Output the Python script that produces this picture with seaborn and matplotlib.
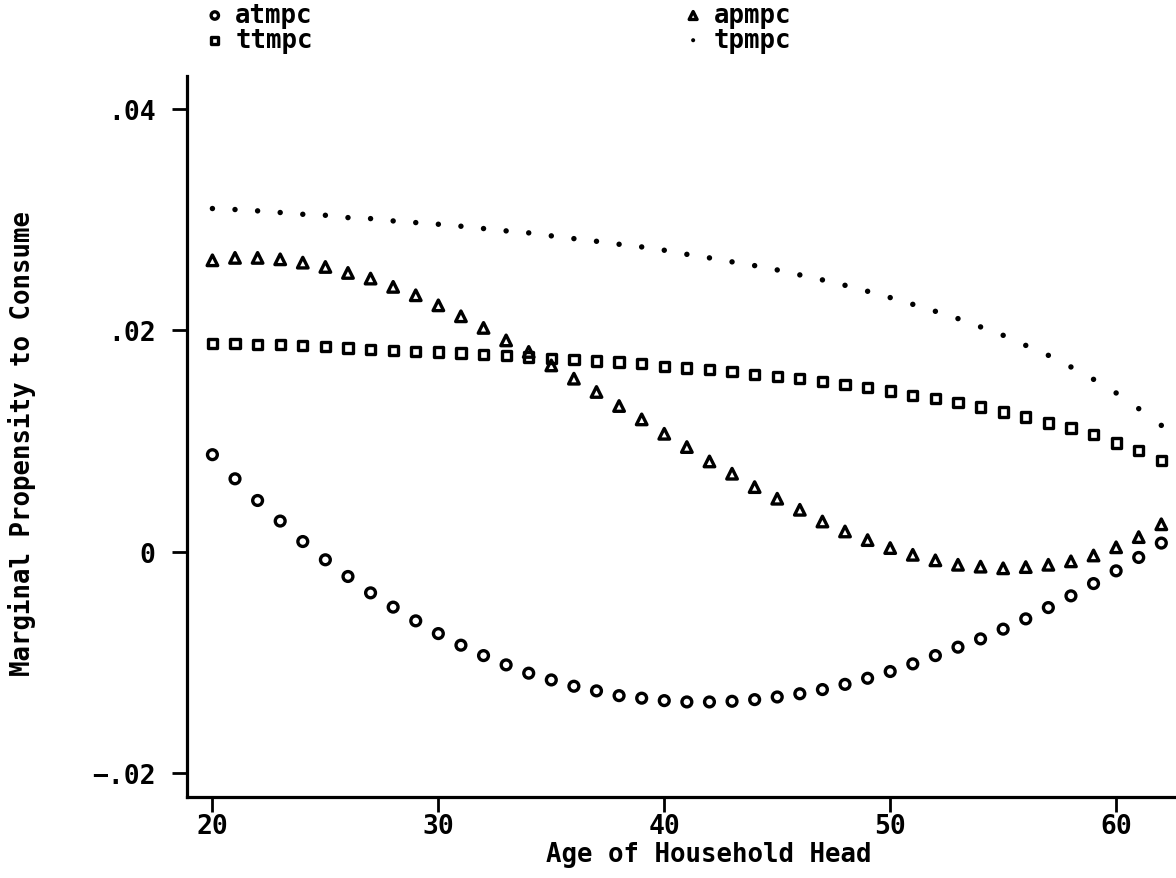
import matplotlib
matplotlib.use("Agg")
import matplotlib.pyplot as plt
import seaborn as sns

# household head age (x)
ages = list(range(20, 63))

# marginal propensities, ages 20..62
atmpc = [0.00877, 0.00659, 0.00463, 0.00277, 0.00092, -0.00073, -0.00224, -0.00372, -0.00501, -0.00625,
         -0.00740, -0.00845, -0.00939, -0.01023, -0.01098, -0.01159, -0.01216, -0.01258, -0.01301, -0.01324,
         -0.01346, -0.01358, -0.01358, -0.01352, -0.01337, -0.01313, -0.01284, -0.01246, -0.01199, -0.01144,
         -0.01083, -0.01014, -0.00939, -0.00863, -0.00788, -0.00700, -0.00607, -0.00505, -0.00399, -0.00288,
         -0.00173, -0.00052, 0.00078]
apmpc = [0.02634, 0.02656, 0.02656, 0.02643, 0.02613, 0.02574, 0.02520, 0.02469, 0.02394, 0.02318,
         0.02227, 0.02128, 0.02023, 0.01910, 0.01806, 0.01684, 0.01564, 0.01444, 0.01317, 0.01196,
         0.01066, 0.00946, 0.00816, 0.00705, 0.00584, 0.00479, 0.00379, 0.00273, 0.00183, 0.00105,
         0.00033, -0.00028, -0.00078, -0.00118, -0.00135, -0.00150, -0.00139, -0.00118, -0.00087, -0.00034,
         0.00040, 0.00132, 0.00248]
ttmpc = [0.01881, 0.01881, 0.01874, 0.01872, 0.01865, 0.01856, 0.01842, 0.01826, 0.01820, 0.01811,
         0.01806, 0.01796, 0.01784, 0.01775, 0.01760, 0.01745, 0.01739, 0.01724, 0.01715, 0.01700,
         0.01677, 0.01661, 0.01648, 0.01630, 0.01603, 0.01585, 0.01564, 0.01540, 0.01512, 0.01483,
         0.01453, 0.01413, 0.01383, 0.01347, 0.01308, 0.01263, 0.01218, 0.01163, 0.01118, 0.01057,
         0.00982, 0.00915, 0.00825]
tpmpc = [0.03102, 0.03093, 0.03081, 0.03066, 0.03050, 0.03041, 0.03020, 0.03011, 0.02990, 0.02975,
         0.02960, 0.02942, 0.02921, 0.02900, 0.02882, 0.02855, 0.02830, 0.02806, 0.02779, 0.02755,
         0.02725, 0.02688, 0.02656, 0.02620, 0.02586, 0.02547, 0.02502, 0.02457, 0.02408, 0.02354,
         0.02297, 0.02236, 0.02173, 0.02107, 0.02032, 0.01956, 0.01865, 0.01775, 0.01670, 0.01558,
         0.01435, 0.01293, 0.01142]

xticks = [20, 30, 40, 50, 60]
yticks = [-0.02, 0, 0.02, 0.04]
ytick_labels = ["\u2212.02", "0", ".02", ".04"]

sns.set_theme(style="ticks")
plt.rcParams["font.family"] = ["DejaVu Sans Mono"]
plt.rcParams["font.weight"] = "bold"
plt.rcParams["text.color"] = "black"
plt.rcParams["axes.labelcolor"] = "black"
plt.rcParams["xtick.color"] = "black"
plt.rcParams["ytick.color"] = "black"

fig = plt.figure(figsize=(11.76, 8.79), dpi=100)
ax = fig.add_axes([0.1593, 0.0918, 0.8407, 0.8206])

hollow = dict(fc="none", ec="black", linewidth=2.4)
sns.scatterplot(x=ages, y=atmpc, marker="o", s=50, label="atmpc", ax=ax, **hollow)
sns.scatterplot(x=ages, y=apmpc, marker="^", s=58, label="apmpc", ax=ax, **hollow)
sns.scatterplot(x=ages, y=ttmpc, marker="s", s=44, label="ttmpc", ax=ax, **hollow)
sns.scatterplot(x=ages, y=tpmpc, marker="o", s=15, color="black", ec="none",
                label="tpmpc", ax=ax)

ax.set_xlim(18.89, 62.65)
ax.set_ylim(-0.0222, 0.043)
ax.set_xticks(xticks)
ax.set_yticks(yticks)
ax.set_yticklabels(ytick_labels)
ax.tick_params(axis="both", labelsize=19, width=2, length=11)
ax.tick_params(axis="x", pad=0.5)
ax.tick_params(axis="y", pad=12)
for side in ["top", "right"]:
    ax.spines[side].set_visible(False)
for side in ["left", "bottom"]:
    ax.spines[side].set_linewidth(2.3)
    ax.spines[side].set_color("black")

ax.set_xlabel("Age of Household Head", fontsize=18.5, fontweight="bold")
ax.set_ylabel("Marginal Propensity to Consume", fontsize=18.5, fontweight="bold")
ax.xaxis.set_label_coords(0.527, -0.060)
ax.yaxis.set_label_coords(-0.153, 0.492)

# legend across the top, two columns like the original
h, l = ax.get_legend_handles_labels()
ax.get_legend().remove()
order = [l.index(n) for n in ["atmpc", "ttmpc", "apmpc", "tpmpc"]]
fig.legend([h[i] for i in order], [l[i] for i in order], loc="upper left",
           bbox_to_anchor=(0.163, 1.008), ncols=2, frameon=False, fontsize=18.5,
           handletextpad=0.3, handlelength=1.0, columnspacing=14.3,
           labelspacing=-0.05, markerscale=0.75, borderaxespad=0)

fig.savefig("out.png", dpi=100, facecolor="white")
